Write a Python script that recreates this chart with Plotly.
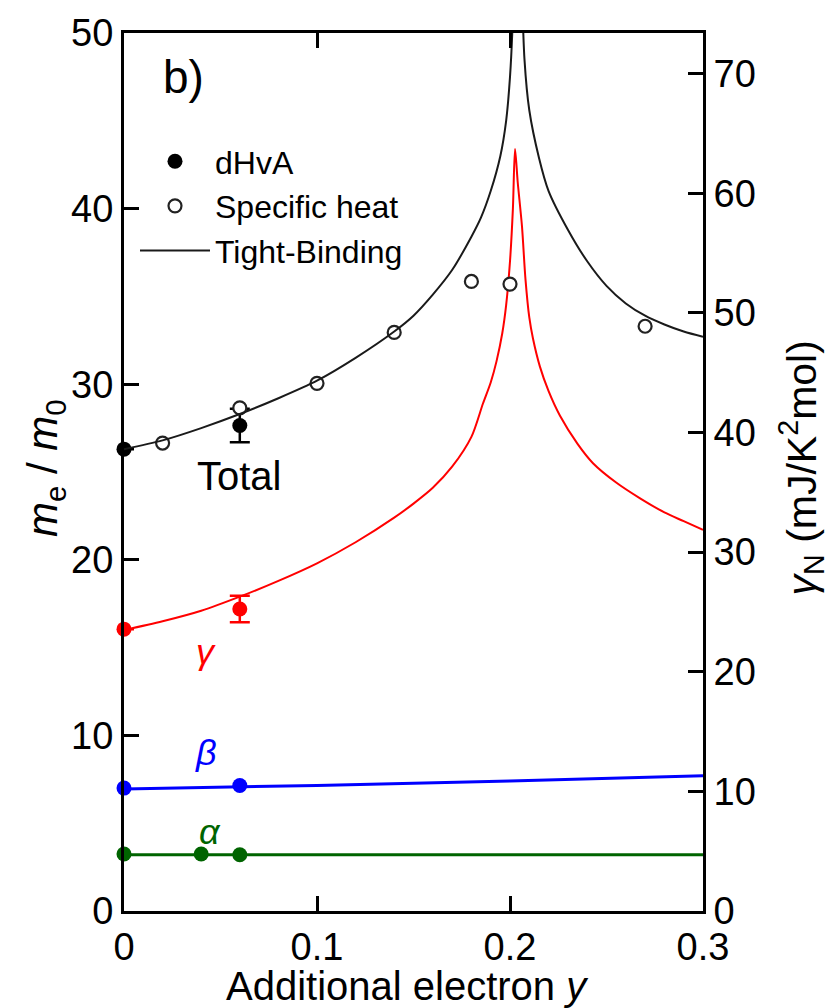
import plotly.graph_objects as go

# ---------------- data ----------------
# Tight-binding curves
tb_total_x = [0, 0.02, 0.04, 0.06, 0.08, 0.10, 0.12, 0.14, 0.15, 0.16, 0.17, 0.18, 0.185, 0.19,
              0.195, 0.198, 0.200, 0.2015, 0.2035, 0.2055, 0.2075, 0.210, 0.215, 0.220, 0.230,
              0.240, 0.250, 0.260, 0.270, 0.280, 0.290, 0.30]
tb_total_y = [26.3, 26.8, 27.5, 28.3, 29.2, 30.2, 31.5, 33.0, 33.9, 35.1, 36.5, 38.4, 39.5, 41.0,
              43.0, 45.0, 47.5, 51.0, 62.0, 55.0, 48.5, 45.6, 42.9, 41.0, 38.8,
              37.0, 35.6, 34.6, 33.9, 33.4, 33.0, 32.7]

tb_gamma_x = [0, 0.02, 0.04, 0.06, 0.08, 0.10, 0.12, 0.14, 0.15, 0.16, 0.17, 0.18, 0.186, 0.19,
              0.193, 0.196, 0.198, 0.200, 0.2015, 0.2026, 0.204, 0.2062, 0.208, 0.210, 0.2119,
              0.2155, 0.220, 0.2259, 0.235, 0.243, 0.255, 0.2674, 0.28, 0.29, 0.30]
tb_gamma_y = [16.0, 16.5, 17.1, 17.9, 18.8, 19.8, 21.0, 22.4, 23.2, 24.1, 25.3, 27.0, 28.9, 30.1,
              31.3, 32.9, 34.5, 37.0, 40.0, 43.4, 41.5, 39.0, 36.0, 33.8, 32.6,
              31.0, 29.6, 28.2, 26.6, 25.5, 24.4, 23.5, 22.7, 22.2, 21.7]

tb_beta_x = [0, 0.1, 0.2, 0.3]
tb_beta_y = [6.95, 7.15, 7.4, 7.7]

tb_alpha_x = [0, 0.1, 0.2, 0.3]
tb_alpha_y = [3.2, 3.2, 3.2, 3.2]

# dHvA points
dhva_total_x = [0, 0.06]
dhva_total_y = [26.3, 27.65]
dhva_total_err = [0, 0.95]

dhva_gamma_x = [0, 0.06]
dhva_gamma_y = [16.05, 17.2]
dhva_gamma_err = [0, 0.75]

dhva_beta_x = [0, 0.06]
dhva_beta_y = [7.0, 7.15]

dhva_alpha_x = [0, 0.04, 0.06]
dhva_alpha_y = [3.25, 3.25, 3.2]

# Specific heat (open circles)
sh_x = [0.02, 0.06, 0.10, 0.14, 0.18, 0.20, 0.27]
sh_y = [26.65, 28.65, 30.05, 32.95, 35.85, 35.7, 33.3]

x_ticks = [0, 0.1, 0.2, 0.3]
x_tick_text = ["0", "0.1", "0.2", "0.3"]
y_ticks = [0, 10, 20, 30, 40, 50]
y2_ticks = [0, 10, 20, 30, 40, 50, 60, 70]

# ---------------- figure ----------------
FONT = "Liberation Sans, Arial, Helvetica, sans-serif"
BLACK = "#000000"
RED = "#ff0000"
BLUE = "#0000ff"
GREEN = "#006400"

fig = go.Figure()

# lines
fig.add_trace(go.Scatter(x=tb_alpha_x, y=tb_alpha_y, mode="lines",
                         line=dict(color=GREEN, width=3), showlegend=False))
fig.add_trace(go.Scatter(x=tb_beta_x, y=tb_beta_y, mode="lines",
                         line=dict(color=BLUE, width=3), showlegend=False))
fig.add_trace(go.Scatter(x=tb_gamma_x, y=tb_gamma_y, mode="lines",
                         line=dict(color=RED, width=2, shape="spline", smoothing=0.8),
                         showlegend=False))

# markers
fig.add_trace(go.Scatter(x=dhva_total_x, y=dhva_total_y, mode="markers", name="dHvA",
                         marker=dict(color=BLACK, size=15),
                         error_y=dict(type="data", array=dhva_total_err, color=BLACK,
                                      thickness=2.5, width=10),
                         cliponaxis=False))
fig.add_trace(go.Scatter(x=sh_x, y=sh_y, mode="markers", name="Specific heat",
                         marker=dict(color="white", size=13, symbol="circle",
                                     line=dict(color="#222222", width=2.2)),
                         cliponaxis=False))
fig.add_trace(go.Scatter(x=tb_total_x, y=tb_total_y, mode="lines", name="Tight-Binding",
                         line=dict(color="#1a1a1a", width=2, shape="spline", smoothing=0.8)))

fig.add_trace(go.Scatter(x=dhva_gamma_x, y=dhva_gamma_y, mode="markers",
                         marker=dict(color=RED, size=15),
                         error_y=dict(type="data", array=dhva_gamma_err, color=RED,
                                      thickness=2.5, width=10),
                         showlegend=False, cliponaxis=False))
fig.add_trace(go.Scatter(x=dhva_beta_x, y=dhva_beta_y, mode="markers",
                         marker=dict(color=BLUE, size=15), showlegend=False, cliponaxis=False))
fig.add_trace(go.Scatter(x=dhva_alpha_x, y=dhva_alpha_y, mode="markers",
                         marker=dict(color=GREEN, size=15), showlegend=False, cliponaxis=False))

# dummy trace to activate the right axis
fig.add_trace(go.Scatter(x=[None], y=[None], yaxis="y2", showlegend=False, hoverinfo="skip"))

axis_common = dict(showline=True, linecolor=BLACK, linewidth=3, ticks="inside",
                   ticklen=15, tickwidth=3, tickcolor=BLACK, showgrid=False, zeroline=False,
                   tickfont=dict(family=FONT, size=38, color=BLACK))

fig.update_layout(
    width=834, height=1008,
    margin=dict(l=124, r=131, t=31, b=97),
    paper_bgcolor="white", plot_bgcolor="white",
    font=dict(family=FONT, color=BLACK),
    xaxis=dict(range=[0, 0.3], tickvals=x_ticks, ticktext=x_tick_text, mirror="ticks",
               **axis_common),
    yaxis=dict(range=[0, 50], tickvals=y_ticks, **axis_common),
    yaxis2=dict(range=[0, 73.4], tickvals=y2_ticks, overlaying="y", side="right",
                **axis_common),
    legend=dict(x=0.019, y=0.885, xanchor="left", yanchor="top",
                bgcolor="rgba(0,0,0,0)", borderwidth=0, itemwidth=70,
                font=dict(family=FONT, size=32, color=BLACK),
                tracegroupgap=0),
    showlegend=True,
)

def ann(x, y, text, size, color=BLACK, ref="data", angle=0):
    r = dict(xref="x", yref="y") if ref == "data" else dict(xref="paper", yref="paper")
    return dict(x=x, y=y, text=text, showarrow=False, textangle=angle,
                xanchor="center", yanchor="middle",
                font=dict(family=FONT, size=size, color=color), **r)

annotations = [
    ann(0.0306, 47.5, "b)", 46),
    ann(0.0601, 24.8, "Total", 40),
    ann(0.0425, 14.8, "<i>γ</i>", 36, RED),
    ann(0.0425, 9.0, "<i>β</i>", 36, BLUE),
    ann(0.0446, 4.5, "<i>α</i>", 36, GREEN),
    ann(-0.1364, 0.5045, "<i>m</i><sub>e</sub> / <i>m</i><sub>0</sub>", 42, ref="paper", angle=-90),
    ann(1.17, 0.5045, "<i>γ</i><sub>N</sub> (mJ/K<sup>2</sup>mol)", 41, ref="paper", angle=-90),
    ann(0.4905, -0.085, "Additional electron <i>y</i>", 40, ref="paper"),
]
fig.update_layout(annotations=annotations)

fig.write_html(
    "out.html",
    config={"displayModeBar": False},
    post_script="document.body.style.margin='0';document.body.style.overflow='hidden';",
)
